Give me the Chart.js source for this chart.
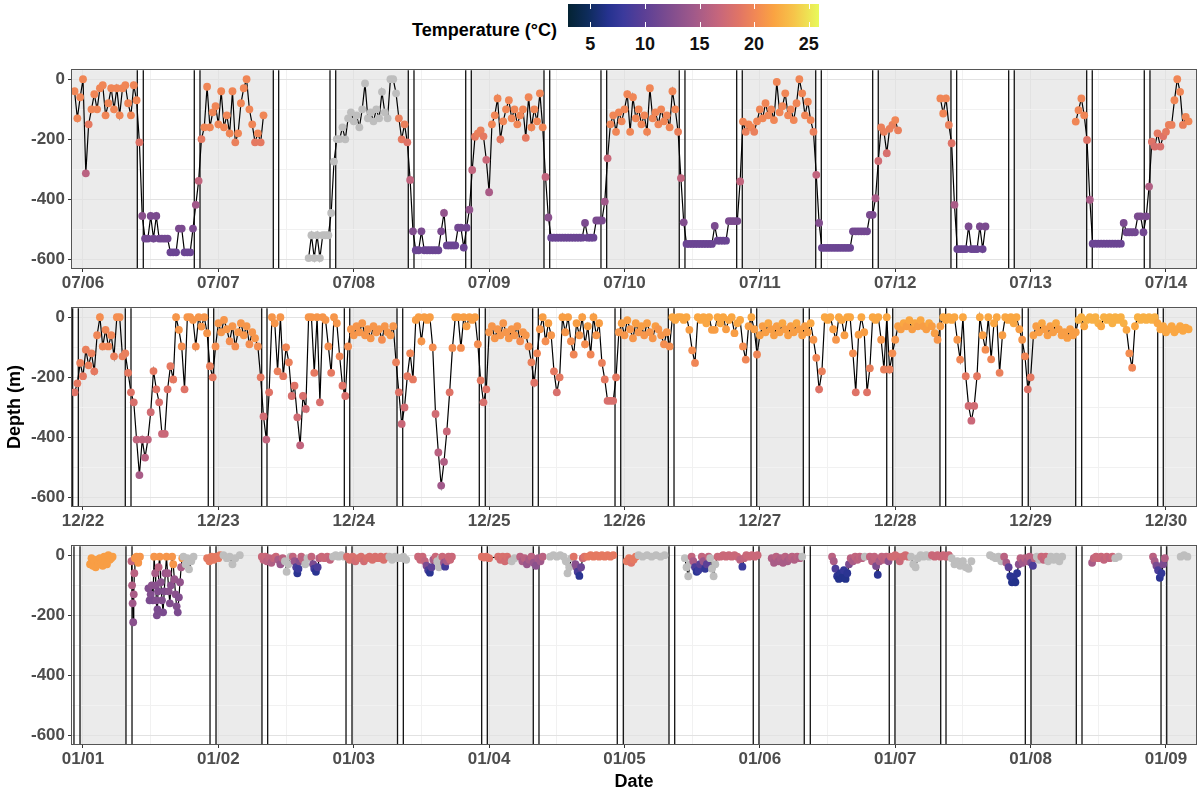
<!DOCTYPE html>
<html>
<head>
<meta charset="utf-8">
<title>Depth and temperature</title>
<script src="https://cdn.jsdelivr.net/npm/chart.js@4.4.1/dist/chart.umd.min.js"></script>
<style>
  html, body { margin: 0; padding: 0; background: #fff; }
  body { width: 1200px; height: 793px; position: relative; overflow: hidden;
         font-family: "Liberation Sans", Arial, Helvetica, sans-serif; }
  .panel { position: absolute; left: 0; width: 1200px; height: 241px; }
  #legend-title { position: absolute; right: 643px; top: 20px; font-size: 18px; line-height: 20px;
                  font-weight: bold; color: #000; white-space: nowrap; }
  #colorbar { position: absolute; left: 568px; top: 4px; width: 251px; height: 23px; }
  #colorbar .tk { position: absolute; width: 1px; height: 5px; background: #fff; }
  #cb-labels { position: absolute; left: 568px; top: 34px; width: 251px; height: 20px; }
  #cb-labels span { position: absolute; width: 40px; margin-left: -20px; text-align: center;
                    font-size: 18px; line-height: 20px; font-weight: bold; color: #111; }
  #ylab { position: absolute; left: -86px; top: 397px; width: 200px; height: 20px; line-height: 20px;
          text-align: center; font-size: 18px; font-weight: bold; color: #000; transform: rotate(-90deg); }
  #xlab { position: absolute; left: 534px; top: 771px; width: 200px; line-height: 20px;
          text-align: center; font-size: 18px; font-weight: bold; color: #000; }
</style>
</head>
<body>
<div id="legend-title">Temperature (°C)</div>
<div id="colorbar"></div>
<div id="cb-labels"></div>
<div class="panel" style="top:57px"><canvas id="p1" width="1200" height="241"></canvas></div>
<div class="panel" style="top:295px"><canvas id="p2" width="1200" height="241"></canvas></div>
<div class="panel" style="top:533px"><canvas id="p3" width="1200" height="241"></canvas></div>
<div id="ylab">Depth (m)</div>
<div id="xlab">Date</div>
<script>
// hours since midnight of the first labelled day; all panels share the same window
const X_MIN = -1.95, X_MAX = 197.32;
const Y_MIN = -628, Y_MAX = 30;
const TEMP_MIN = 2.96, TEMP_MAX = 25.94;
const tempTicks = [5, 10, 15, 20, 25];

// ---------- panel 1 : July, samples every 30 min from p1Start ----------
const p1Ticks = ['07/06','07/07','07/08','07/09','07/10','07/11','07/12','07/13','07/14'];
const p1Start = -1.5;
const p1Depth = [
  -40,-130,-60,0,-313,-150,-100,-50,-100,-30,-20,-120,
  -80,-30,-100,-30,-120,-30,-20,-80,-120,-20,-70,-210,
  -455,-530,-530,-455,-530,-455,-530,-530,-530,-530,-576,-576,
  -576,-497,-497,-576,-576,-576,-497,-418,-338,-199,-160,-25,
  -160,-110,-90,-150,-40,-160,-120,-180,-40,-210,-180,-80,
  -30,0,-100,-150,-210,-180,-210,-120,null,null,null,null,
  null,null,null,null,null,null,null,null,null,null,null,-595,
  -519,-595,-519,-595,-519,-519,-519,-445,-274,-199,-199,-160,
  -200,-130,-110,-140,-120,-160,-100,-14,-130,-110,-140,-100,
  -130,-42,-110,-130,0,0,-47,-130,-200,-150,-210,-335,
  -506,-569,-569,-506,-569,-569,-569,-569,-569,-569,-506,-445,
  -553,-553,-553,-553,-494,-494,-560,-494,-434,-302,-191,-180,
  -170,-190,-268,-376,-150,-120,-64,-200,-140,-100,-70,-130,
  -100,-150,-120,-100,-195,-60,-160,-100,-140,-47,-160,-325,
  -460,-527,-527,-527,-527,-527,-527,-527,-527,-527,-527,-527,
  -527,-478,-527,-527,-527,-470,-470,-470,-407,-263,-150,-120,
  -175,-110,-140,-100,-50,-175,-60,-130,-100,-150,-120,-175,
  -30,-130,-110,-150,-100,-140,-120,-160,-40,-100,-175,-329,
  -476,-548,-548,-548,-548,-548,-548,-548,-548,-548,-548,-488,
  -537,-537,-537,-537,-472,-472,-472,-472,-340,-141,-175,-150,
  -160,-175,-140,-100,-130,-80,-120,-100,-136,-9,-110,-90,
  -47,-120,-100,-136,-80,0,-47,-120,-75,-136,-175,-318,
  -478,-561,-561,-561,-561,-561,-561,-561,-561,-561,-561,-561,
  -506,-506,-506,-506,-506,-506,-451,-451,-396,-272,-160,-175,
  -246,-165,-152,-136,-170,null,null,null,null,null,null,null,
  null,null,null,null,null,null,null,-64,-114,-64,-152,-213,
  -418,-565,-565,-565,-565,-490,-565,-565,-565,-490,-565,-490,
  null,null,null,null,null,null,null,null,null,null,null,null,
  null,null,null,null,null,null,null,null,null,null,null,null,
  null,null,null,null,null,null,null,-141,-103,-64,-120,-202,
  -401,-547,-547,-547,-547,-547,-547,-547,-547,-547,-547,-547,
  -478,-509,-509,-509,-509,-456,-456,-509,-456,-357,-208,-224,
  -180,-224,-190,-175,-152,-152,-70,0,-42,-152,-125,-140
];
// null = no temperature reading (grey points)
const p1Temp = [
  20,20,20,20,16,19,20,20,20,20,20,20,
  20,20,20,20,20,20,20,20,20,20,20,18.5,
  13,11.5,11.5,12,11.5,12,11.5,11.5,11.5,11.5,11,11,
  11,12,12,11,11,11,12,14.5,16.5,19,20,20,
  20,20,20,20,20,20,20,20,20,19.5,20,20,
  20,20,20,20,19,20,19,20,null,null,null,null,
  null,null,null,null,null,null,null,null,null,null,null,null,
  null,null,null,null,null,null,null,null,null,null,null,null,
  null,null,null,null,null,null,null,null,null,null,null,null,
  null,null,null,null,null,null,null,19.5,19,19.5,18.5,16.5,
  12.5,11,11,12,11,11,11,11,11,11,12,13.5,
  11,11,11,11,11.5,11.5,11,11.5,13.5,16.5,19,19.5,
  19.5,19,17,15,20,20,20,19,20,20,20,20,
  20,20,20,20,19,20,20,20,20,20,20,16.5,
  13,11,11,11,11,11,11,11,11,11,11,11,
  11,12,11,11,11,12,12,12,14.5,17,20,20,
  20,20,20,20,20,20,20,20,20,20,20,20,
  20,20,20,20,20,20,20,20,20,20,19.5,16.5,
  12.5,11,11,11,11,11,11,11,11,11,11,12,
  11,11,11,11,12,12,12,12,16.5,20,19.5,20,
  20,19.5,20,20,20,20,20,20,20,20,20,20,
  20,20,20,20,20,20,20,20,20,20,19.5,16.5,
  12.5,11,11,11,11,11,11,11,11,11,11,11,
  11.5,11.5,11.5,11.5,11.5,11.5,12,12,15,17.5,19.5,19.5,
  18,19.5,19.5,20,19.5,null,null,null,null,null,null,null,
  null,null,null,null,null,null,null,20,20,20,19.5,18.5,
  15,11,11,11,11,12,11,11,11,12,11,12,
  null,null,null,null,null,null,null,null,null,null,null,null,
  null,null,null,null,null,null,null,null,null,null,null,null,
  null,null,null,null,null,null,null,20,20,20,20,18.5,
  15,11,11,11,11,11,11,11,11,11,11,11,
  12,11.5,11.5,11.5,11.5,12,12,11.5,12,15.5,18.5,18,
  19,18,18.5,19,19.5,19.5,20,20,20,19.5,20,20
];
const p1Dawn = [[9.63,10.69],[33.74,34.69],[57.67,58.68],[81.73,82.74],[105.71,106.72],[129.90,130.89],[153.88,154.89],[177.94,178.93]];
const p1Dusk = [[19.73,20.74],[43.79,44.80],[67.85,68.84],[91.83,92.84],[115.89,116.88],[140.00,140.99],[164.11,165.10],[188.15,189.16]];

// ---------- panel 2 : December, samples every 30 min from p2Start ----------
const p2Ticks = ['12/22','12/23','12/24','12/25','12/26','12/27','12/28','12/29','12/30'];
const p2Start = -1.5;
const p2Depth = [
  -250,-220,-152,-196,-108,-160,-120,-180,-60,0,-97,-42,
  -97,-60,-130,0,0,-130,-120,-185,-250,-283,-407,-525,
  -407,-467,-407,-316,-179,-240,-283,-388,-388,-240,-163,-207,
  0,-42,-97,-240,0,0,-9,-97,0,-31,0,-53,
  -163,-200,-97,-20,-50,-9,-40,-80,-30,-97,-50,-20,
  -60,-30,-90,-50,-70,-97,-200,-330,-407,-250,0,-20,
  -180,0,-196,-100,-150,-262,-228,-333,-426,-262,-305,0,
  0,-185,0,-283,0,-9,-97,-185,0,-20,-130,-228,
  -262,-97,-40,-60,-30,-50,-20,-60,-40,-70,-30,-50,
  -40,-75,-30,-50,-60,-30,-150,-250,-355,-300,-196,-120,
  -207,-9,0,-80,0,-9,0,-100,-322,-450,-560,-481,
  -380,-250,-102,0,0,-102,0,-30,0,-9,0,-90,
  -210,-283,-240,-50,-30,-70,-40,-60,-20,-50,-70,-40,
  -60,-30,-80,-50,-60,-97,-150,-218,-120,-40,0,-80,
  -20,-60,-180,-250,-200,0,-50,0,-80,-124,-20,-60,
  0,-90,-30,-124,0,-60,-20,-152,-207,-278,-278,-278,
  -200,-50,-20,-60,-10,-40,-70,-20,-50,-30,-60,-20,
  -50,-70,-30,-40,-60,-90,-50,-97,0,-9,0,0,
  -9,0,-42,-110,-152,0,-9,0,-20,0,-42,-42,
  0,-20,0,-40,-9,0,-53,-20,-9,-97,-141,-30,
  0,-40,-124,-60,-30,-50,-20,-40,-60,-30,-50,-20,
  -40,-60,-30,-50,-20,-40,-60,-30,-50,-20,-75,-135,
  -240,-180,0,-9,0,-40,-75,0,-9,-60,0,0,
  -120,-250,-58,0,-50,-250,-170,0,-9,0,-75,-174,
  0,-174,-120,-75,-30,-40,-20,-30,-10,-40,-20,-30,
  -10,-30,-40,-20,-30,-53,-75,-30,0,-9,0,-9,
  0,-75,-141,0,-196,-295,-344,-295,-196,0,-60,-108,
  0,-140,-20,0,-185,-60,0,-9,0,-20,0,-40,
  -75,-130,-240,-200,-60,-30,-50,-20,-40,-60,-30,-50,
  -20,-40,-60,-50,-69,-40,-60,-50,-9,0,-30,-9,
  0,-9,0,-20,-30,0,-9,0,-20,0,-9,0,
  -20,-42,-120,-168,-30,0,-9,0,-9,0,-9,0,
  -20,-40,-30,-50,-40,-30,-50,-40,-30,-45,-35,-40
];
const p2Temp = [
  18.5,19,19.5,19,19.5,19.5,19.5,19,20,20.5,20,20,
  20,20,19.5,20.5,20.5,19.5,19.5,19,18.5,18,16.5,15,
  16.5,16,16.5,17.5,19,18.5,18,17,17,18.5,19,19,
  21,21,20.5,18.5,21,21,21,20.5,21,21,21,21,
  19.5,19,20.5,21,21,21,21,20.5,21,20.5,21,21,
  21,21,20.5,21,21,20.5,19,17.5,16.5,18.5,21,21,
  19.5,21,19,20,19.5,18,18.5,17.5,16.5,18,17.5,21,
  21,19,21,18,21,21,20.5,19,21,21,20,18.5,
  18,20.5,21,21,21,21,21,21,21,21,21,21,
  21,20.5,21,21,21,21,19.5,18.5,17,17.5,19,20,
  19,21.5,21.5,21,21.5,21.5,21.5,20.5,17.5,16,14.5,15.5,
  17,18.5,20.5,21.5,21.5,20.5,21.5,21.5,21.5,21.5,21.5,20.5,
  19,18,18.5,21,21,21,21,21,21,21,21,21,
  21,21,20.5,21,21,20.5,19.5,18.5,20,21,21.5,20.5,
  21.5,21,19,18,19,21.5,21,21.5,20.5,20,21.5,21,
  21.5,20.5,21.5,20,21.5,21,21.5,19.5,19,18,18,18,
  19,21,21.5,21,21.5,21,21,21.5,21,21.5,21,21.5,
  21,21,21.5,21,21,20.5,21,20.5,22,22,22,22,
  22,22,21.5,20.5,20,22,22,22,22,22,21.5,21.5,
  22,22,22,21.5,22,22,21.5,22,22,20.5,20,21.5,
  22,21.5,20,21.5,21.5,21.5,22,21.5,21.5,21.5,21.5,22,
  21.5,21.5,21.5,21.5,22,21.5,21.5,21.5,21.5,22,21,20,
  18.5,19.5,22,22,22,21.5,21,22,22,21.5,22,22,
  20.5,18.5,21.5,22,21.5,18.5,19.5,22,22,22,21,19.5,
  22,19.5,20.5,21,21.5,21.5,22,21.5,22,21.5,22,21.5,
  22,21.5,21.5,22,21.5,21.5,21,21.5,22,22,22,22,
  22,21,20,22,19,17.5,17,17.5,19,22,21.5,20.5,
  22,20,22,22,19.5,21.5,22,22,22,22,22,21.5,
  21,20,18.5,19,21.5,21.5,21.5,22,21.5,21.5,21.5,21.5,
  22,21.5,21.5,21.5,21.5,21.5,21.5,21.5,22.5,22.5,22,22.5,
  22.5,22.5,22.5,22.5,22,22.5,22.5,22.5,22.5,22.5,22.5,22.5,
  22.5,22,20.5,20,22,22.5,22.5,22.5,22.5,22.5,22.5,22.5,
  22,22,22,22,22,22,22,22,22,22,22,22
];
const p2Dawn = [[7.50,8.51],[31.68,32.62],[55.67,56.68],[79.72,80.72],[103.77,104.78],[127.70,128.76],[151.93,152.94],[175.99,177.05]];
const p2Dusk = [[-1.83,-0.83],[22.21,23.17],[46.33,47.29],[70.26,71.32],[94.32,95.33],[118.43,119.44],[142.49,143.55],[166.52,167.58],[190.53,191.52]];

// ---------- panel 3 : January, irregular samples (null depth = gap in record) ----------
const p3Ticks = ['01/01','01/02','01/03','01/04','01/05','01/06','01/07','01/08','01/09'];
const p3Hours = [
  1.25,1.5,1.75,2.0,2.25,2.5,2.75,3.0,3.25,3.5,3.75,4.0,4.25,4.5,4.75,5.0,5.25,6,
  8.6,8.7,8.8,8.9,9.0,9.1,9.2,9.5,9.8,10.1,10.8,
  11.6,11.8,12.0,12.2,12.4,
  12.6,12.8,12.9,13.0,13.1,13.2,13.3,13.4,
  13.6,13.8,14.0,14.2,14.4,14.6,14.8,
  15.0,15.2,15.4,15.6,15.8,
  16.0,16.2,16.4,16.6,16.8,17.0,17.2,17.4,17.6,
  17.8,18.2,18.5,18.8,19.2,19.6,20.5,
  22.0,22.4,22.8,23.2,23.6,24.0,24.3,24.9,25.5,26.0,26.5,27.0,27.8,29.5,
  31.7,32.0,32.3,32.6,33.0,33.4,33.8,34.2,
  34.6,35.0,35.4,
  35.8,36.1,36.4,36.8,
  37.2,37.5,37.8,38.0,38.2,38.4,38.7,39.0,
  39.4,39.8,
  40.5,40.8,41.0,41.3,41.6,41.9,
  42.3,42.8,43.3,43.8,
  44.3,44.8,45.3,45.8,46.3,
  46.8,47.3,47.8,48.3,48.8,49.3,49.8,50.3,50.8,51.3,51.8,52.3,52.8,53.3,53.8,
  54.3,54.8,55.3,55.8,56.3,56.8,57.3,58.3,
  59.4,59.8,60.2,60.6,60.9,61.2,61.5,61.8,62.1,62.5,
  62.8,63.1,63.4,
  63.7,64.0,64.2,64.5,64.8,65.1,65.4,68,
  70.7,71.1,71.5,72.0,
  73.6,74.0,74.4,74.8,75.2,75.6,
  76.0,76.5,
  77.5,77.9,78.3,78.7,79.1,79.5,79.9,80.3,80.7,81.1,81.5,82.2,
  82.8,83.4,84.0,84.6,85.2,85.6,85.9,86.2,86.6,
  87.0,87.3,87.5,87.7,88.0,88.3,88.6,88.9,
  89.5,90.0,90.5,91.0,91.5,92.0,92.5,93.0,93.5,94.0,95.2,
  96.4,96.8,97.2,97.6,98.0,98.5,99.2,100.0,100.8,101.6,102.4,103.1,105,
  106.7,107.0,107.3,107.6,107.9,108.2,108.5,108.8,109.1,109.4,109.7,110.0,110.3,110.6,110.9,111.2,111.5,111.8,112.1,112.5,
  113.0,113.5,114.0,114.5,115.0,115.5,116.0,116.5,116.9,117.2,117.6,118.1,118.6,119.1,119.6,121,
  122.1,122.5,122.9,123.3,123.7,124.1,124.5,124.9,125.3,125.7,126.1,126.6,127.1,127.5,130,
  132.8,133.1,133.4,133.7,134.0,134.3,134.6,134.9,135.2,135.5,135.8,136.1,136.5,136.9,137.3,137.7,138.1,138.6,
  139.5,139.9,140.3,140.6,140.9,141.2,141.6,142.0,142.4,
  142.8,143.2,143.6,144.0,144.4,144.8,145.3,145.8,146.3,
  146.8,147.2,147.6,148.0,148.5,149.0,149.5,150.0,
  150.5,151.0,151.5,152.0,152.5,153.0,153.5,
  154.0,154.5,155.0,155.5,156.0,156.5,157.0,157.5,159,
  160.8,161.3,161.8,162.3,162.8,
  163.3,163.7,164.1,164.4,164.7,165.0,165.3,165.6,165.9,166.2,166.6,167.0,167.4,167.8,168.1,168.4,168.7,
  169.1,169.5,
  169.9,170.3,170.7,
  171.1,171.6,172.1,172.6,173.1,173.6,176,
  178.9,179.2,179.6,180.0,180.5,181.0,181.5,182.0,182.5,183.0,183.6,186,
  189.7,190.0,190.3,190.6,190.9,191.2,191.5,191.8,193,194.6,195.2,195.8
];
const p3Depth = [
  -30,-10,-35,-20,-40,-15,-30,-10,-25,-35,-5,-20,-30,0,-15,-10,-5,null,
  -20,-100,-160,-223,-130,-60,-10,-5,-25,-5,null,
  -110,-150,-130,-100,-150,
  -5,-60,-100,-150,-200,-180,-120,-40,
  -5,-90,-150,-190,-120,-60,-5,
  -60,-120,-160,-100,-5,
  -30,-80,-130,-170,-190,-140,-90,-40,-10,
  -5,-30,-10,-47,-20,-5,null,
  -10,-20,-5,-15,-5,-10,0,0,-10,-5,-30,-10,0,null,
  -5,-15,-5,-20,-10,-25,-10,-5,
  -15,-30,-10,
  -20,-55,-30,-5,
  -5,-20,-40,-60,-45,-20,-5,-15,
  -30,-10,
  -5,-30,-45,-55,-40,-10,
  -5,-10,-5,-15,
  -5,0,-5,0,-5,
  -5,-15,-5,-20,-10,-5,-20,-10,-5,-15,-5,-10,-5,-15,-5,
  -5,-15,-5,-10,-10,-5,-15,null,
  -5,-15,-5,-20,-35,-50,-58,-40,-15,-5,
  -20,-40,-10,
  -5,-25,-38,-20,-5,-15,-5,null,
  -5,-8,-5,-10,
  -5,-15,-5,-20,-5,-15,
  -20,-10,
  -5,-20,-10,-30,-15,-5,-25,-35,-10,-20,-5,null,
  -5,0,-5,0,-5,-20,-60,-40,-10,
  -5,-30,-40,-55,-69,-40,-10,-5,
  -5,0,-5,0,-5,0,-5,0,-5,0,null,
  -20,-10,-25,-15,-5,0,-5,0,-5,0,-5,0,null,
  -10,-40,-70,-30,-5,-20,-40,-55,-50,-30,-5,-20,-45,-30,-5,-10,-45,-70,-30,-5,
  -5,0,-5,0,-5,0,-5,-15,-38,-10,0,-5,0,-5,0,null,
  -10,-25,-5,-20,-10,-25,-5,-20,-10,-5,-15,-5,-10,-5,null,
  -5,-20,-45,-70,-79,-60,-75,-50,-79,-60,-30,-10,-20,-5,-15,-5,-10,-5,
  -5,-20,-5,-36,-65,-20,-5,-15,-5,
  -20,-5,-5,0,-5,-20,-5,0,-5,
  -5,-30,-40,-10,0,-5,0,-5,
  0,-5,0,-5,0,-5,0,
  -10,-30,-20,-35,-20,-40,-45,-20,null,
  0,-5,-10,-5,-20,
  -5,-25,-40,-70,-90,-75,-90,-60,-30,-10,-25,-10,-20,-5,-25,-35,-10,
  -5,-15,
  -5,-15,-5,
  -20,-5,-15,-5,-20,-5,null,
  -25,-10,-5,-10,-5,-15,-5,-10,-5,-10,-5,null,
  -5,-20,-35,-50,-75,-60,-30,-10,null,-5,0,-5
];
const p3Temp = [
  21.5,21.5,21.5,21.5,21.5,21.5,21.5,21.5,21.5,21.5,21.5,21.5,21.5,21.5,21.5,21.5,21.5,null,
  16.5,15.5,14.5,13,15,16,21,21,21,21,null,
  12.5,12,12.5,13,12,
  21,15,13,12.5,12,12,12.5,16,
  21,13,12.5,12,12.5,14,21,
  14.5,13,12.5,13,21,
  21,14,13,12.5,12,12.5,13.5,15,21,
  null,null,null,null,null,null,null,
  19,19,19,19,19,19,19,null,null,null,null,null,null,null,
  17,16.5,17,16,16.5,15.5,16.5,17,
  15,14,16,
  null,null,null,null,
  16.5,14,9,7,8,13,16.5,16,
  null,null,
  16.5,12,8.5,7,9,16,
  17,17,17,16.5,
  null,null,null,null,null,
  18,18,18,17.5,18,18,17.5,18,18,18,18,18,18,18,18,
  null,null,null,null,null,null,null,null,
  17,17,17,16.5,12,9,7,10,15,17,
  null,null,null,
  17,14,8.5,15,17,17,17,null,
  18.5,18.5,18.5,18.5,
  18,17.5,18,17.5,18,17.5,
  null,null,
  16,15,16,14,15,16,14,13,15,14.5,16,null,
  null,null,null,null,null,null,null,null,null,
  18.5,13,13,9,7,11,17,18.5,
  19,19,19,19,19,19,19,19,19,19,null,
  19,19,18.5,19,19,null,null,null,null,null,null,null,null,
  null,null,null,null,16.5,15,9,7,8,10,16.5,14,7.5,10,16.5,null,null,null,null,17,
  17,17,17,17,17,17,17,16,8,16.5,17,17,17,17,17,null,
  15.5,15,16,15,15.5,15,16,15,15.5,16,15.5,16,15.5,null,null,
  16,15,9,7,6.5,7,6.5,7.5,6.5,7,12,16,15,16.5,16,16.5,16,null,
  16.5,16,16.5,12,7,15,16.5,16,16.5,
  13,17,17.5,17.5,17.5,17,17.5,17.5,17.5,
  null,null,null,null,null,null,null,null,
  17,17,17,17,17,17,17,
  null,null,null,null,null,null,null,null,null,
  null,null,null,null,null,
  16,15,10,7,6.5,7,6.5,7,13,16,14.5,16,15,16,12,9,16,
  null,null,
  17,16.5,17,
  null,null,null,null,null,null,null,
  15,16.5,17,17,17,16.5,17,16.5,17,null,null,null,
  16,15,12,9,7,7.5,12,15.5,null,null,null,null
];
const p3Dawn = [[7.62,8.69],[31.73,32.74],[55.76,56.79],[79.83,80.84],[103.89,104.90],[127.87,128.94],[152.06,153.00],[176.10,177.11]];
const p3Dusk = [[-1.60,-0.53],[22.52,23.58],[46.63,47.69],[70.68,71.68],[94.72,95.79],[118.83,119.84],[142.94,143.95],[167.06,168.07],[191.12,192.13]];

// ---------- colour scale (cmocean "thermal"-like) ----------
const THERMAL = [[0,'#042333'],[0.08,'#0e2c5c'],[0.16,'#25328f'],[0.22,'#3b3a9c'],[0.30,'#5a3f96'],
  [0.40,'#7d4c8f'],[0.50,'#a0598a'],[0.60,'#c6667c'],[0.68,'#e07466'],[0.75,'#f28954'],
  [0.82,'#faa342'],[0.90,'#f6c44a'],[1,'#e8fa5b']];
const NA_COLOR = '#bebebe';
const FONT = '"Liberation Sans", Arial, Helvetica, sans-serif';

function hexRgb(h) { return [1, 3, 5].map(i => parseInt(h.substr(i, 2), 16)); }
function tempColor(t) {
  if (t === null || t === undefined) return NA_COLOR;
  let f = (t - TEMP_MIN) / (TEMP_MAX - TEMP_MIN);
  f = Math.max(0, Math.min(1, f));
  for (let i = 1; i < THERMAL.length; i++) {
    if (f <= THERMAL[i][0]) {
      const [f0, c0] = THERMAL[i - 1], [f1, c1] = THERMAL[i];
      const k = (f - f0) / (f1 - f0), a = hexRgb(c0), b = hexRgb(c1);
      return 'rgb(' + a.map((v, j) => Math.round(v + (b[j] - v) * k)).join(',') + ')';
    }
  }
  return THERMAL[THERMAL.length - 1][1];
}

// colour bar legend
const cb = document.getElementById('colorbar');
cb.style.background = 'linear-gradient(to right,' + THERMAL.map(s => s[1] + ' ' + (s[0] * 100) + '%').join(',') + ')';
const cbLab = document.getElementById('cb-labels');
tempTicks.forEach(v => {
  const px = (v - TEMP_MIN) / (TEMP_MAX - TEMP_MIN) * 251;
  ['0px', '18px'].forEach(top => {
    const tk = document.createElement('div');
    tk.className = 'tk'; tk.style.left = px + 'px'; tk.style.top = top;
    cb.appendChild(tk);
  });
  const s = document.createElement('span');
  s.style.left = px + 'px'; s.textContent = v;
  cbLab.appendChild(s);
});

// night shading + twilight lines + panel border
const dayNight = {
  id: 'dayNight',
  beforeDraw(chart, args, opts) {
    const {ctx, chartArea: a, scales: {x}} = chart;
    ctx.save();
    ctx.fillStyle = '#ebebeb';
    opts.nights.forEach(([s, e]) => {
      const x0 = Math.max(a.left, x.getPixelForValue(s));
      const x1 = Math.min(a.right, x.getPixelForValue(e));
      if (x1 > x0) ctx.fillRect(x0, a.top, x1 - x0, a.height);
    });
    ctx.restore();
  },
  beforeDatasetsDraw(chart, args, opts) {
    const {ctx, chartArea: a, scales: {x}} = chart;
    ctx.save();
    ctx.strokeStyle = '#111';
    ctx.lineWidth = 1.3;
    opts.lines.forEach(v => {
      const px = x.getPixelForValue(v);
      if (px < a.left || px > a.right) return;
      ctx.beginPath(); ctx.moveTo(px, a.top); ctx.lineTo(px, a.bottom); ctx.stroke();
    });
    ctx.restore();
  },
  afterDraw(chart) {
    const {ctx, chartArea: a} = chart;
    ctx.save();
    ctx.strokeStyle = '#555';
    ctx.lineWidth = 1;
    ctx.strokeRect(Math.round(a.left) - 0.5, Math.round(a.top) - 0.5, Math.round(a.width) + 1, Math.round(a.height) + 1);
    ctx.restore();
  }
};

function gridHours(start, n) {
  const h = [];
  for (let i = 0; i < n; i++) h.push(start + i * 0.5);
  return h;
}

function nightSpans(dawn, dusk) {
  const spans = [];
  if (dawn[0][0] < dusk[0][0]) spans.push([X_MIN, dawn[0][0]]);
  dusk.forEach(d => {
    const next = dawn.find(w => w[0] > d[1]);
    spans.push([d[1], next ? next[0] : X_MAX]);
  });
  return spans;
}

function drawPanel(id, labels, hours, depth, temp, dawn, dusk) {
  if (hours.length !== depth.length || depth.length !== temp.length) {
    console.error(id, 'length mismatch', hours.length, depth.length, temp.length);
  }
  const pts = [], cols = [];
  hours.forEach((h, i) => {
    if (depth[i] !== null) { pts.push({x: h, y: depth[i]}); cols.push(tempColor(temp[i])); }
  });
  const track = hours.map((h, i) => ({x: h, y: depth[i]}));
  const lines = [];
  dawn.concat(dusk).forEach(p => lines.push(p[0], p[1]));
  const tickFont = {family: FONT, size: 17, weight: 'bold'};

  new Chart(document.getElementById(id), {
    type: 'scatter',
    data: {
      datasets: [
        {data: pts, pointRadius: 3.9, pointHoverRadius: 3.9, pointBackgroundColor: cols,
         pointBorderWidth: 0, showLine: false, order: 0},
        {data: track, showLine: true, borderColor: '#000', borderWidth: 1.2, pointRadius: 0,
         spanGaps: false, order: 1}
      ]
    },
    options: {
      responsive: false,
      animation: false,
      events: [],
      layout: {padding: {top: 12, right: 4, left: 0, bottom: 0}},
      plugins: {
        legend: {display: false},
        tooltip: {enabled: false},
        dayNight: {nights: nightSpans(dawn, dusk), lines: lines}
      },
      scales: {
        x: {
          type: 'linear', min: X_MIN, max: X_MAX,
          afterBuildTicks: s => {
            const t = [];
            for (let v = 0; v <= X_MAX; v += 12) t.push({value: v});
            s.ticks = t;
          },
          afterFit: s => { s.height = 30; },
          border: {display: false},
          grid: {
            color: c => (c.tick && c.tick.value % 24 === 0) ? '#e2e2e2' : '#f1f1f1',
            tickColor: c => (c.tick && c.tick.value % 24 === 0) ? '#333' : 'rgba(0,0,0,0)',
            lineWidth: 1, tickLength: 4
          },
          ticks: {
            autoSkip: false, maxRotation: 0, padding: 1, color: '#4d4d4d', font: tickFont,
            callback: v => v % 24 === 0 ? labels[v / 24] : ''
          }
        },
        y: {
          type: 'linear', min: Y_MIN, max: Y_MAX,
          afterBuildTicks: s => {
            s.ticks = [-600, -500, -400, -300, -200, -100, 0].map(v => ({value: v}));
          },
          afterFit: s => { s.width = 72; },
          border: {display: false},
          grid: {
            color: c => (c.tick && c.tick.value % 200 === 0) ? '#e2e2e2' : '#f1f1f1',
            tickColor: c => (c.tick && c.tick.value % 200 === 0) ? '#333' : 'rgba(0,0,0,0)',
            lineWidth: 1, tickLength: 4
          },
          ticks: {
            autoSkip: false, padding: 3, color: '#4d4d4d', font: tickFont,
            callback: v => v % 200 === 0 ? String(v) : ''
          }
        }
      }
    },
    plugins: [dayNight]
  });
}

drawPanel('p1', p1Ticks, gridHours(p1Start, p1Depth.length), p1Depth, p1Temp, p1Dawn, p1Dusk);
drawPanel('p2', p2Ticks, gridHours(p2Start, p2Depth.length), p2Depth, p2Temp, p2Dawn, p2Dusk);
drawPanel('p3', p3Ticks, p3Hours, p3Depth, p3Temp, p3Dawn, p3Dusk);
</script>
</body>
</html>
